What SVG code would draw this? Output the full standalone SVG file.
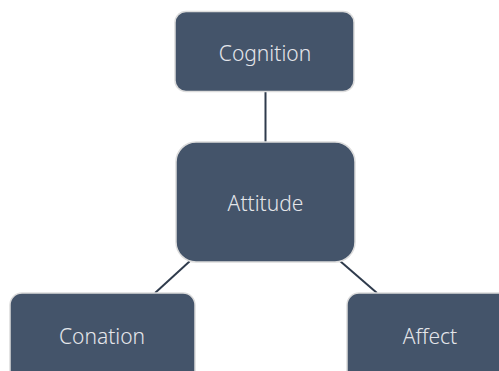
<svg xmlns="http://www.w3.org/2000/svg" width="499" height="371" viewBox="0 0 499 371">
  <style>
    .box { fill: #44546A; stroke: #dcdcdc; stroke-width: 1.5; }
    .label { font-family: "Noto Sans", "Open Sans", sans-serif; font-size: 21px; font-weight: 300; fill: #e4e6ea; text-anchor: middle; dominant-baseline: central; }
    .link { stroke: #2f3b4c; stroke-width: 2; fill: none; }
  </style>
  <rect width="499" height="371" fill="#ffffff"/>
  <g id="connectors">
    <line class="link" x1="265.5" y1="91" x2="265.5" y2="143"/>
    <line class="link" x1="190" y1="261" x2="155" y2="293"/>
    <line class="link" x1="340" y1="261" x2="377" y2="293"/>
  </g>
  <g id="cognition">
    <rect class="box" x="175" y="11.5" width="179" height="80" rx="11"/>
    <text class="label" x="265" y="53">Cognition</text>
  </g>
  <g id="attitude">
    <rect class="box" x="176" y="142" width="179" height="120" rx="20"/>
    <text class="label" x="265.5" y="203">Attitude</text>
  </g>
  <g id="conation">
    <rect class="box" x="10" y="293" width="185" height="100" rx="12"/>
    <text class="label" x="102" y="336">Conation</text>
  </g>
  <g id="affect">
    <rect class="box" x="347" y="293" width="170" height="100" rx="12"/>
    <text class="label" x="430" y="336">Affect</text>
  </g>
</svg>
